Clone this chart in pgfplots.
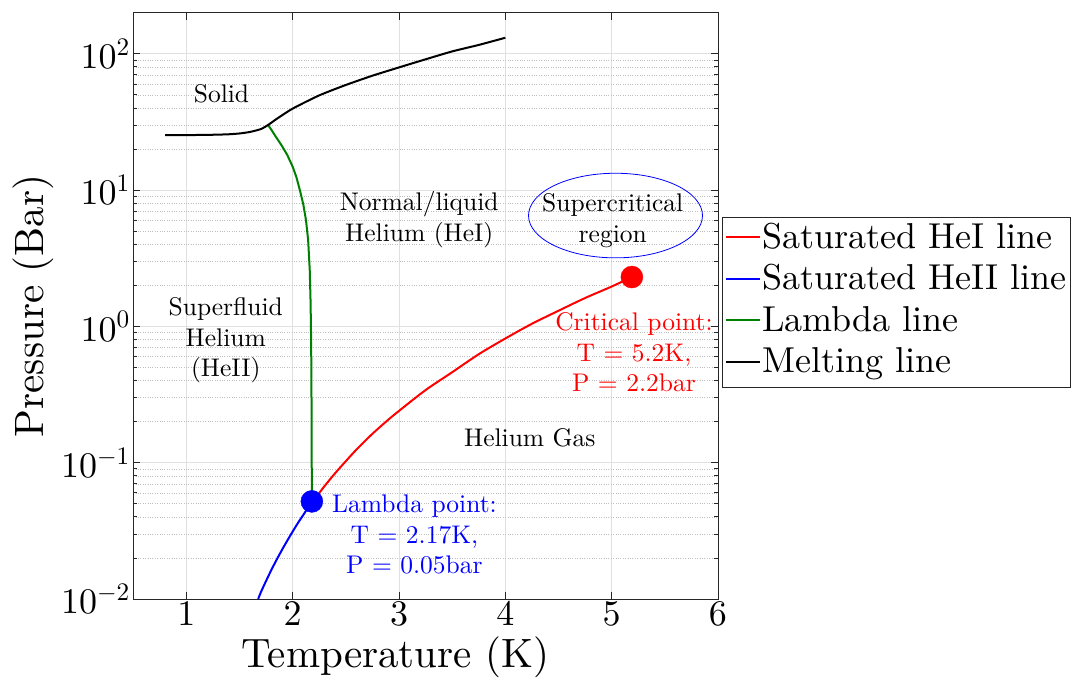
\RequirePackage{fix-cm}
\documentclass[border=0pt]{standalone}
\usepackage{pgfplots}
\pgfplotsset{compat=1.18}
\DeclareFontShape{TU}{lmr}{m}{n}{<-> "[lmroman10-regular]:+tlig;"}{}
\DeclareFontShape{OT1}{cmr}{m}{n}{<-> cmr10}{}
\DeclareFontShape{OML}{cmm}{m}{it}{<-> cmmi10}{}
\DeclareFontShape{OMS}{cmsy}{m}{n}{<-> cmsy10}{}
\begin{document}
\begin{tikzpicture}
\useasboundingbox (0,0) rectangle (1072pt,688pt);
\begin{axis}[
  at={(133.25pt,89pt)}, anchor=south west,
  scale only axis, width=584.75pt, height=586.3pt,
  xmin=0.5, xmax=6, ymin=0.01, ymax=200, ymode=log,
  xtick={1,2,3,4,5,6},
  ytick={0.01,0.1,1,10,100},
  grid=both,
  major grid style={black!12, line width=0.6pt},
  minor grid style={black!25, dotted, line width=0.5pt},
  axis line style={black!85, line width=0.9pt},
  every tick/.style={black!85, line width=0.9pt},
  major tick length=7pt, minor tick length=4pt,
  tick label style={font=\fontsize{36}{40}\selectfont},
  xlabel={Temperature (K)}, ylabel={Pressure (Bar)},
  label style={font=\fontsize{41}{48}\selectfont},
  xlabel style={xshift=-30pt, yshift=-4pt},
  legend style={at={(1.0068,0.6508)}, anchor=north west, draw=black!85, line width=0.9pt,
    font=\fontsize{36}{40}\selectfont, inner xsep=3pt, inner ysep=3.5pt,
    nodes={inner sep=1pt, text height=26pt, text depth=10pt}, row sep=3.5pt,
    /tikz/every even column/.append style={column sep=2pt}},
  legend cell align=left,
  legend image code/.code={\draw[#1, mark=none] (0pt,0.3em) -- (34pt,0.3em);},
]
% Saturated HeI line
\addplot[red, line width=2pt, smooth] coordinates {
(2.18,0.052) (2.2,0.0535) (2.3,0.0674) (2.4,0.0839) (2.5,0.1027) (2.6,0.1249)
(2.75,0.163) (2.9,0.207) (3.0,0.240) (3.25,0.341) (3.5,0.461) (3.75,0.625) (4.0,0.815)
(4.25,1.045) (4.5,1.302) (4.75,1.614) (5.0,1.96) (5.19,2.3)};
\addlegendentry{Saturated HeI line}
% Saturated HeII line
\addplot[blue, line width=2pt, smooth] coordinates {
(1.675,0.0100) (1.7,0.0112) (1.75,0.0136) (1.8,0.0164) (1.85,0.0195)
(1.9,0.0230) (1.95,0.0269) (2.0,0.0313) (2.05,0.0362) (2.1,0.0414) (2.18,0.052)};
\addlegendentry{Saturated HeII line}
% Lambda line
\addplot[green!50!black, line width=2pt] coordinates {
(1.768,30.0) (1.80,27.6) (1.85,24.0) (1.90,21.0) (1.95,18.0) (2.00,14.8)
(2.035,12.4) (2.07,9.8) (2.10,7.8) (2.125,6.0) (2.145,4.3) (2.16,2.6)
(2.168,1.5) (2.173,0.8) (2.176,0.4) (2.178,0.15) (2.18,0.052)};
\addlegendentry{Lambda line}
% Melting line
\addplot[black, line width=2pt, smooth, tension=0.4] coordinates {
(0.8,25.3) (1.0,25.3) (1.2,25.4) (1.3,25.5) (1.4,25.65) (1.5,26.0) (1.6,26.7) (1.7,28.0)
(1.768,30.0) (1.85,33.3) (2.0,39.6) (2.25,49.5) (2.5,59) (2.75,69) (3.0,79.4)
(3.25,91) (3.5,104) (3.75,116) (4.0,131)};
\addlegendentry{Melting line}
% points
\addplot[only marks, mark=*, mark size=11pt, red, forget plot] coordinates {(5.19,2.3)};
\addplot[only marks, mark=*, mark size=11pt, blue, forget plot] coordinates {(2.18,0.052)};
% annotations
\draw[blue, line width=0.8pt] (axis cs:5.036,6.5) ellipse [x radius=87pt, y radius=42.3pt];
\begin{scope}[every node/.style={font=\fontsize{25.5}{30.5}\selectfont, align=center, inner sep=0pt}]
\node at (axis cs:1.33,50.9) {Solid};
\node at (axis cs:3.19,6.08) {Normal/liquid\\Helium (HeI)};
\node at (axis cs:1.37,0.79) {Superfluid\\Helium\\(HeII)};
\node at (axis cs:4.23,0.151) {Helium Gas};
\node at (axis cs:5.01,5.98) {Supercritical\\region};
\node[text=red] at (axis cs:5.21,0.645) {Critical point:\\T = 5.2K,\\P = 2.2bar};
\node[text=blue] at (axis cs:3.145,0.0297) {Lambda point:\\T = 2.17K,\\P = 0.05bar};
\end{scope}
\end{axis}
\end{tikzpicture}
\end{document}
